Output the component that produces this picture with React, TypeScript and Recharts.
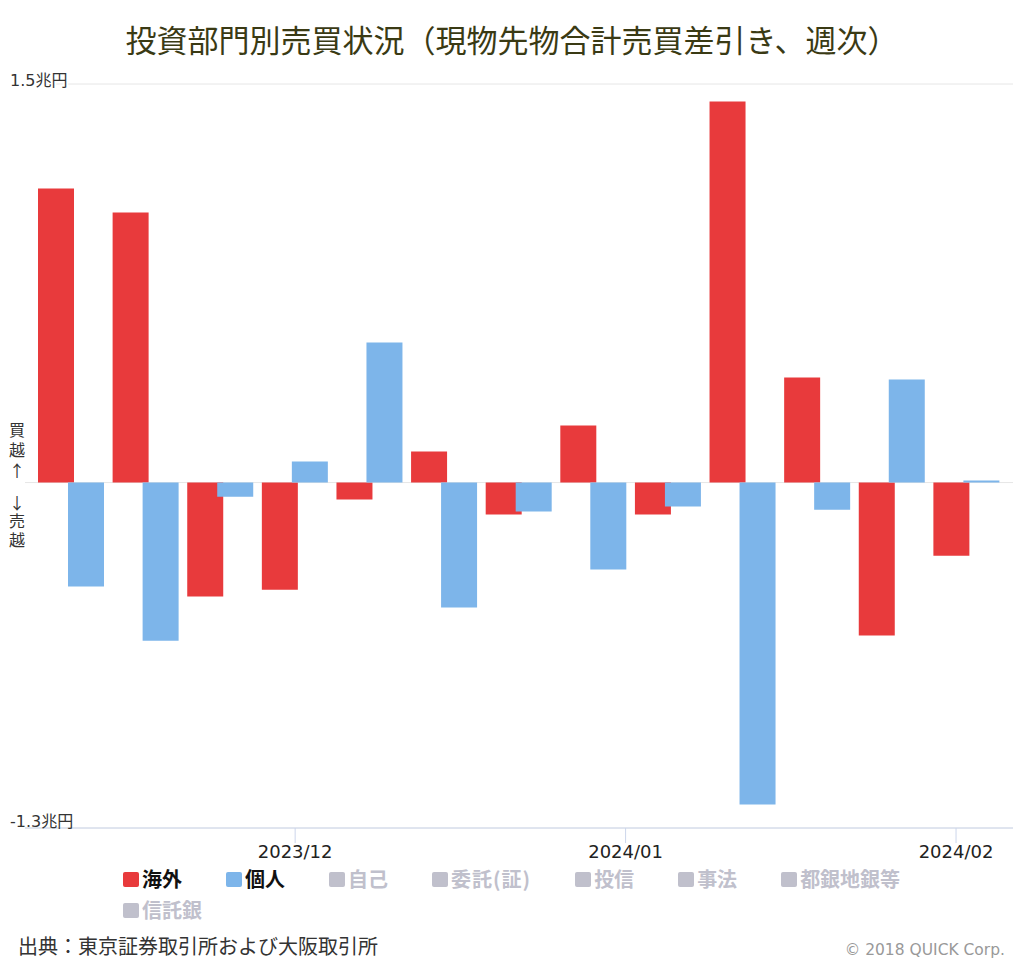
import React from "react";
import { BarChart, Bar, XAxis, YAxis, CartesianGrid } from "recharts";

// 週次（金曜日）の日付
const weeks = [
  "2023-11-10", "2023-11-17", "2023-11-24", "2023-12-01", "2023-12-08",
  "2023-12-15", "2023-12-22", "2023-12-29", "2024-01-05", "2024-01-12",
  "2024-01-19", "2024-01-26", "2024-02-02",
];

// 海外（兆円）
const foreign = [
  1.107, 1.016, -0.429, -0.403, -0.064, 0.117, -0.12, 0.215, -0.12, 1.434,
  0.395, -0.576, -0.275,
];

// 個人（兆円）
const individual = [
  -0.391, -0.595, -0.053, 0.079, 0.527, -0.47, -0.109, -0.327, -0.09, -1.212,
  -0.102, 0.388, 0.008,
];

const monthTicks = ["2023-12-01", "2024-01-01", "2024-02-01"];
const yTicks = [-1.3, 0, 1.5];
const yLabelLines = ["買", "越", "↑", "↓", "売", "越"];

const legendItems = [
  { name: "海外", color: "#e83a3c", active: true },
  { name: "個人", color: "#7db5ea", active: true },
  { name: "自己", color: "#c0c0cc", active: false },
  { name: "委託(証)", color: "#c0c0cc", active: false },
  { name: "投信", color: "#c0c0cc", active: false },
  { name: "事法", color: "#c0c0cc", active: false },
  { name: "都銀地銀等", color: "#c0c0cc", active: false },
  { name: "信託銀", color: "#c0c0cc", active: false },
];

const DAY = 86400000;
const toDay = (d: string) => (Date.parse(d) - Date.parse(weeks[0])) / DAY;

const data = weeks.map((w, i) => ({
  week: w,
  day: toDay(w),
  foreign: foreign[i],
  individual: individual[i],
}));

const tickDays = monthTicks.map(toDay);
const dayDomain = [-3.5, toDay(weeks[weeks.length - 1]) + 3.5];

const LATIN = '"DejaVu Sans", "Noto Sans CJK JP", sans-serif';
const CJK = '"Noto Sans CJK JP", sans-serif';

function formatMonth(v: number) {
  const d = new Date(Date.parse(weeks[0]) + v * DAY);
  const m = String(d.getUTCMonth() + 1).padStart(2, "0");
  return `${d.getUTCFullYear()}/${m}`;
}

// 縦書きラベルの各文字のオフセット（ゼロ線基準）
const labelOffsets = [-53, -33, -12, 20, 38, 57];

function YTick(props: any) {
  const { y, payload } = props;
  const v = payload.value;
  if (v === 0) {
    return (
      <g>
        {yLabelLines.map((ch, i) => (
          <text
            key={i}
            x={17}
            y={y + labelOffsets[i] + 6}
            textAnchor="middle"
            fontSize={16}
            fontFamily={CJK}
            fill="#333"
          >
            {ch}
          </text>
        ))}
      </g>
    );
  }
  return (
    <text
      x={10}
      y={v > 0 ? y + 2 : y - 1}
      fontSize={16}
      fontFamily={LATIN}
      fill="#333"
      stroke={v > 0 ? "#fff" : "none"}
      strokeWidth={4}
      paintOrder="stroke"
    >
      {`${v}兆円`}
    </text>
  );
}

export default function App() {
  return (
    <div
      style={{
        position: "absolute",
        left: 0,
        top: 0,
        width: 1024,
        height: 964,
        background: "#fff",
        fontFamily: CJK,
      }}
    >
      <div
        style={{
          position: "absolute",
          top: 18,
          left: 0,
          width: 1024,
          textAlign: "center",
          fontSize: 31,
          lineHeight: "42px",
          color: "#3a3a14",
        }}
      >
        投資部門別売買状況（現物先物合計売買差引き、週次）
      </div>

      <div style={{ position: "absolute", left: 0, top: 0 }}>
        <BarChart
          width={1024}
          height={890}
          data={data}
          margin={{ top: 84, right: 11, left: 0, bottom: 22 }}
          barGap={-6}
        >
          <CartesianGrid
            vertical={false}
            stroke="#e6e6e6"
            xAxisId="date"
          />
          <XAxis
            xAxisId="cat"
            dataKey="week"
            hide
            height={0}
            padding={{ left: 9, right: 9 }}
          />
          <XAxis
            xAxisId="date"
            type="number"
            dataKey="day"
            domain={dayDomain}
            allowDataOverflow
            ticks={tickDays}
            tickFormatter={formatMonth}
            padding={{ left: 9, right: 9 }}
            height={40}
            tickSize={15}
            stroke="#ccd6eb"
            tick={{ fontSize: 18, fill: "#222", fontFamily: LATIN }}
          />
          <YAxis
            width={25}
            domain={[-1.3, 1.5]}
            ticks={yTicks}
            axisLine={false}
            tickLine={false}
            tick={<YTick />}
          />
          <Bar
            xAxisId="cat"
            dataKey="foreign"
            name="海外"
            fill="#e83a3c"
            barSize={36}
            isAnimationActive={false}
          />
          <Bar
            xAxisId="cat"
            dataKey="individual"
            name="個人"
            fill="#7db5ea"
            barSize={36}
            isAnimationActive={false}
          />
        </BarChart>
      </div>

      <div
        style={{
          position: "absolute",
          left: 123,
          top: 866,
          width: 860,
          display: "flex",
          flexWrap: "wrap",
          rowGap: 5,
        }}
      >
        {legendItems.map((it) => (
          <div
            key={it.name}
            style={{
              display: "flex",
              alignItems: "center",
              marginRight: 44,
              height: 26,
            }}
          >
            <span
              style={{
                display: "inline-block",
                width: 16,
                height: 15,
                borderRadius: 2,
                background: it.color,
                marginRight: 3,
              }}
            />
            <span
              style={{
                fontSize: 20,
                fontWeight: 700,
                color: it.active ? "#111" : "#c0c0cc",
                lineHeight: "26px",
                letterSpacing: it.name.includes("(") ? 1 : 0,
              }}
            >
              {it.name}
            </span>
          </div>
        ))}
      </div>

      <div
        style={{
          position: "absolute",
          left: 18,
          top: 932,
          fontSize: 20,
          lineHeight: "28px",
          color: "#333",
        }}
      >
        出典：東京証券取引所および大阪取引所
      </div>
      <div
        style={{
          position: "absolute",
          right: 19,
          top: 940,
          fontSize: 15.5,
          lineHeight: "20px",
          color: "#999",
          fontFamily: LATIN,
        }}
      >
        © 2018 QUICK Corp.
      </div>
    </div>
  );
}
